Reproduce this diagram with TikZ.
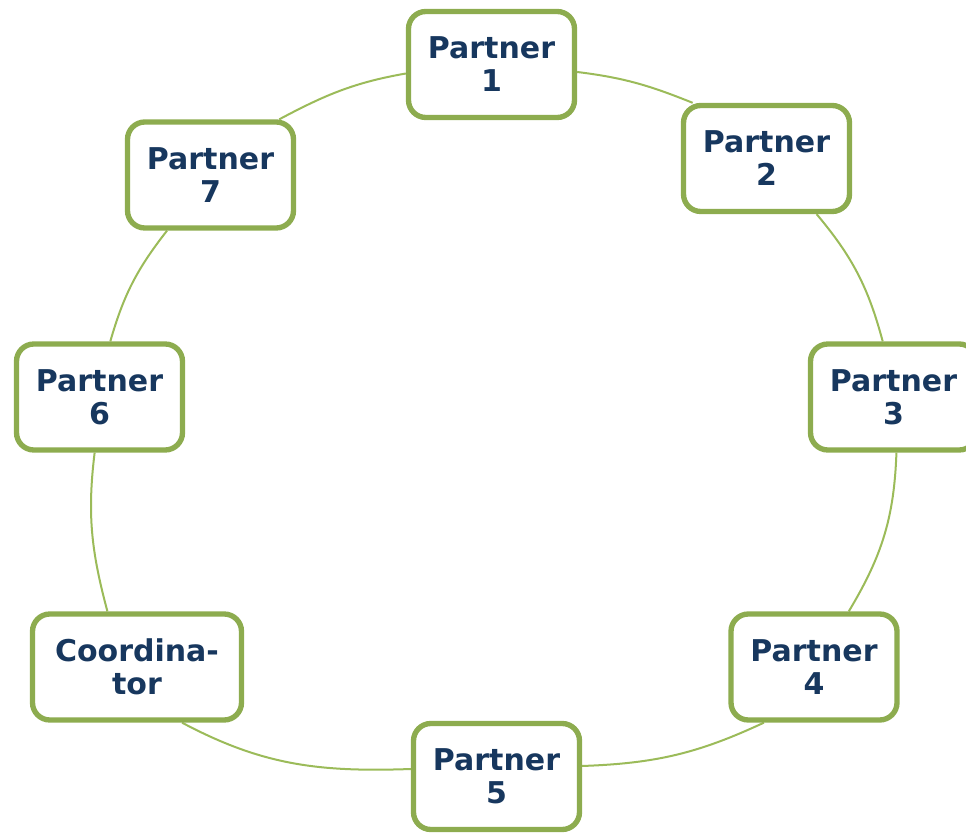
\documentclass[tikz,border=0pt]{standalone}
\usepackage{fontspec}
\setmainfont{DejaVu Sans}
\usetikzlibrary{backgrounds}
\definecolor{boxgreen}{RGB}{141,172,79}
\definecolor{linegreen}{RGB}{155,187,89}
\definecolor{navy}{RGB}{23,55,94}
\tikzset{
  partnerbox/.style={draw=boxgreen, line width=4pt, fill=white, rounded corners=13pt,
    minimum width=124.5pt, minimum height=79.5pt, inner sep=0pt, align=center,
    text=navy, font=\fontsize{22.5}{24.75}\selectfont\bfseries},
  coordbox/.style={partnerbox, minimum width=156.75pt},
  conn/.style={draw=linegreen, line width=1.5pt}
}
\begin{document}
\begin{tikzpicture}[x=0.75pt,y=0.75pt]
\useasboundingbox (0,0) rectangle (966,832);
\node[partnerbox] (p1) at (491.5,767.5) {Partner\\1};
\node[partnerbox] (p2) at (766.5,673.5) {Partner\\2};
\node[partnerbox] (p3) at (893.5,435) {Partner\\3};
\node[partnerbox] (p4) at (814,165) {Partner\\4};
\node[partnerbox] (p5) at (496.5,55.5) {Partner\\5};
\node[coordbox] (co) at (137,165) {Coordina-\\tor};
\node[partnerbox] (p6) at (99.5,435) {Partner\\6};
\node[partnerbox] (p7) at (210.5,657) {Partner\\7};
\begin{pgfonlayer}{background}
\draw[conn] (p1.-5.7) to[out=-7,in=158] (p2.143.3);
\draw[conn] (p2.-48.3) to[out=-50,in=105] (p3.101.8);
\draw[conn] (p3.-87.4) to[out=-92,in=59] (p4.58.3);
\draw[conn] (p4.228.8) to[out=205,in=2] (p5.7);
\draw[conn] (p5.175) to[out=182,in=-28] (co.-51.2);
\draw[conn] (co.118.6) to[out=105,in=263] (p6.265.3);
\draw[conn] (p6.79.2) to[out=74,in=232] (p7.232);
\draw[conn] (p7.39.4) to[out=28,in=190] (p1.186.3);
\end{pgfonlayer}
\end{tikzpicture}
\end{document}
